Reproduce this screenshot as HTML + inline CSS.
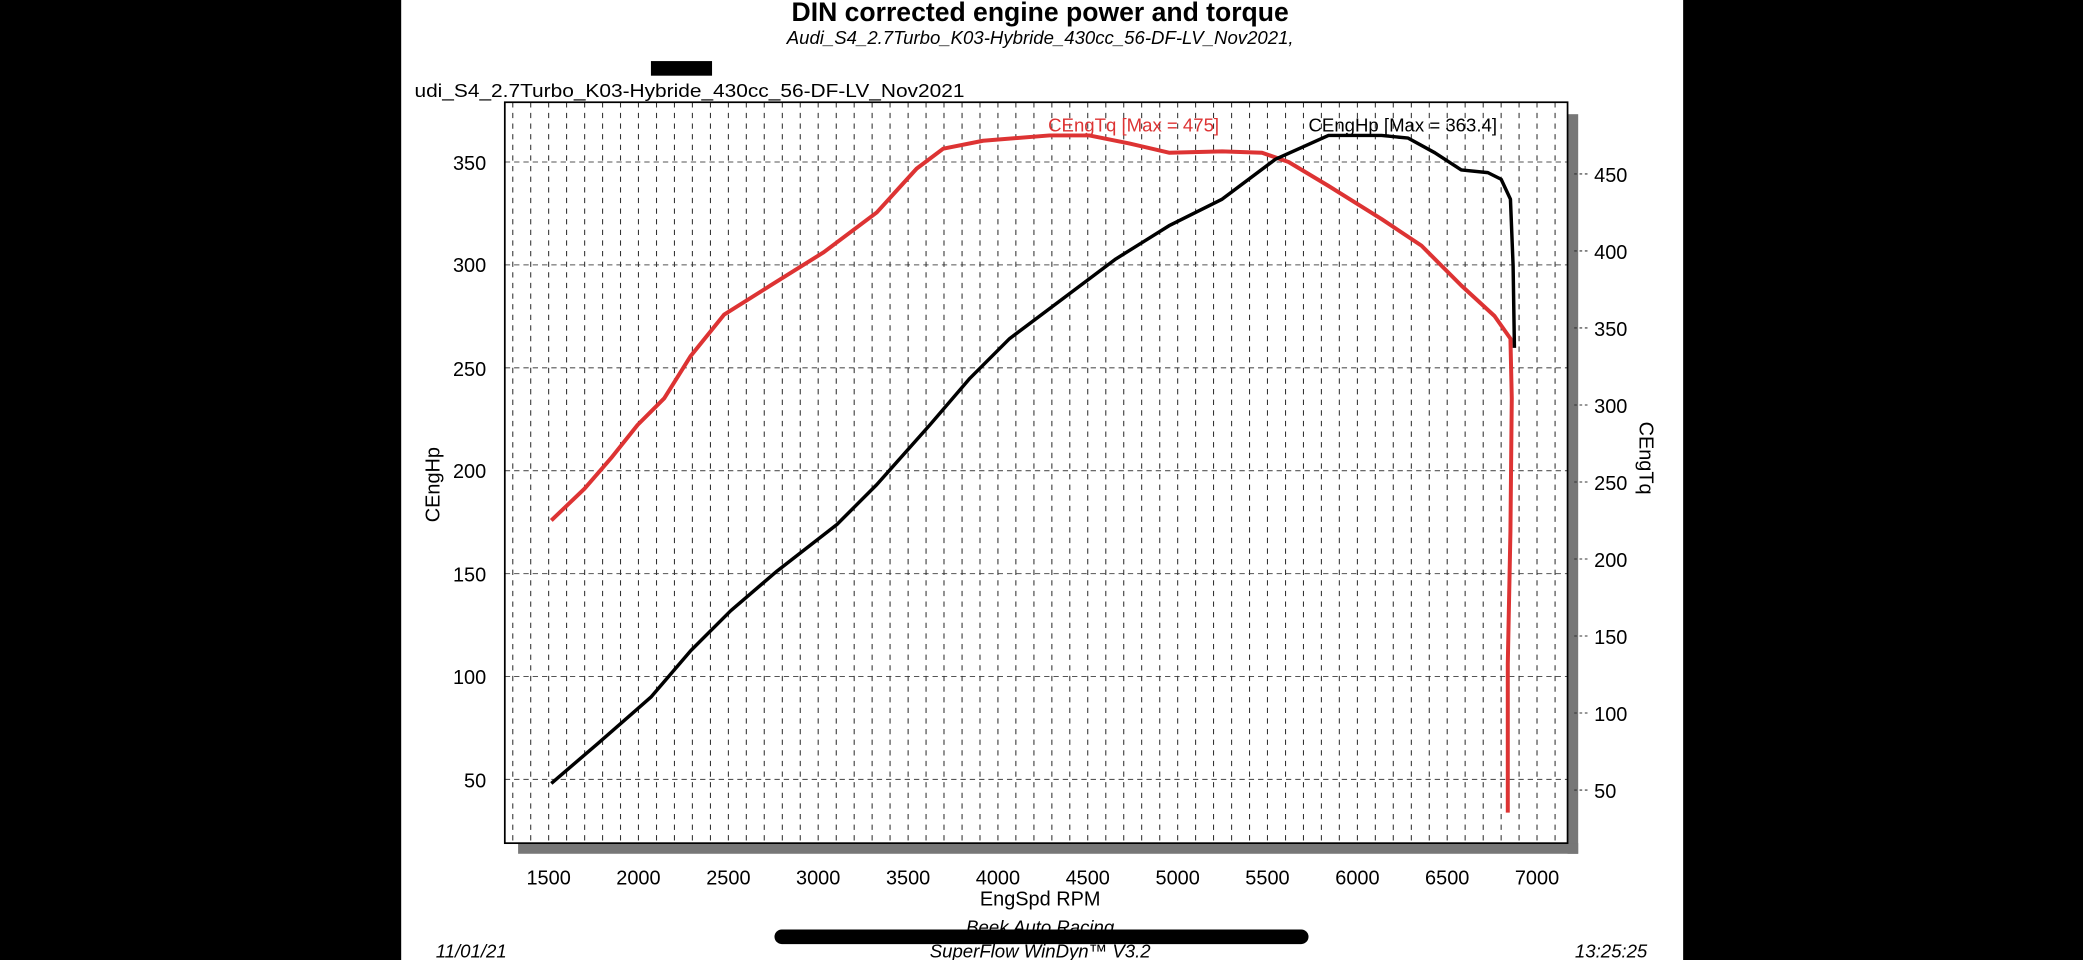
<!DOCTYPE html>
<html><head><meta charset="utf-8"><style>html,body{margin:0;padding:0;background:#000;overflow:hidden}svg{display:block}text{font-family:"Liberation Sans",sans-serif}</style></head><body>
<svg width="2083" height="960" viewBox="0 0 1568 723" preserveAspectRatio="none" xmlns="http://www.w3.org/2000/svg">
<rect x="302" y="0" width="965" height="723" fill="#fff"/>
<text x="783" y="16" font-size="20" font-weight="bold" text-anchor="middle">DIN corrected engine power and torque</text>
<text x="783" y="33" font-size="14" font-style="italic" text-anchor="middle">Audi_S4_2.7Turbo_K03-Hybride_430cc_56-DF-LV_Nov2021,</text>
<rect x="490" y="46" width="46" height="11" fill="#000"/>
<text x="312" y="73" font-size="14" textLength="414" lengthAdjust="spacingAndGlyphs">udi_S4_2.7Turbo_K03-Hybride_430cc_56-DF-LV_Nov2021</text>
<rect x="1180" y="86" width="8" height="557" fill="#777"/>
<rect x="390" y="635" width="798" height="8" fill="#777"/>
<g stroke="#555" stroke-width="0.8" stroke-dasharray="4,3">
<line x1="380" x2="1180" y1="122" y2="122"/><line x1="380" x2="1180" y1="199.5" y2="199.5"/><line x1="380" x2="1180" y1="277" y2="277"/><line x1="380" x2="1180" y1="354.5" y2="354.5"/><line x1="380" x2="1180" y1="432" y2="432"/><line x1="380" x2="1180" y1="509.5" y2="509.5"/><line x1="380" x2="1180" y1="587" y2="587"/>
</g>
<g stroke="#333" stroke-width="0.8" stroke-dasharray="4,4">
<line x1="386" x2="386" y1="77" y2="635"/><line x1="399.5" x2="399.5" y1="77" y2="635"/><line x1="413" x2="413" y1="77" y2="635"/><line x1="426.5" x2="426.5" y1="77" y2="635"/><line x1="440.1" x2="440.1" y1="77" y2="635"/><line x1="453.6" x2="453.6" y1="77" y2="635"/><line x1="467.1" x2="467.1" y1="77" y2="635"/><line x1="480.6" x2="480.6" y1="77" y2="635"/><line x1="494.2" x2="494.2" y1="77" y2="635"/><line x1="507.7" x2="507.7" y1="77" y2="635"/><line x1="521.2" x2="521.2" y1="77" y2="635"/><line x1="534.8" x2="534.8" y1="77" y2="635"/><line x1="548.3" x2="548.3" y1="77" y2="635"/><line x1="561.8" x2="561.8" y1="77" y2="635"/><line x1="575.3" x2="575.3" y1="77" y2="635"/><line x1="588.9" x2="588.9" y1="77" y2="635"/><line x1="602.4" x2="602.4" y1="77" y2="635"/><line x1="615.9" x2="615.9" y1="77" y2="635"/><line x1="629.5" x2="629.5" y1="77" y2="635"/><line x1="643" x2="643" y1="77" y2="635"/><line x1="656.5" x2="656.5" y1="77" y2="635"/><line x1="670" x2="670" y1="77" y2="635"/><line x1="683.6" x2="683.6" y1="77" y2="635"/><line x1="697.1" x2="697.1" y1="77" y2="635"/><line x1="710.6" x2="710.6" y1="77" y2="635"/><line x1="724.2" x2="724.2" y1="77" y2="635"/><line x1="737.7" x2="737.7" y1="77" y2="635"/><line x1="751.2" x2="751.2" y1="77" y2="635"/><line x1="764.7" x2="764.7" y1="77" y2="635"/><line x1="778.3" x2="778.3" y1="77" y2="635"/><line x1="791.8" x2="791.8" y1="77" y2="635"/><line x1="805.3" x2="805.3" y1="77" y2="635"/><line x1="818.8" x2="818.8" y1="77" y2="635"/><line x1="832.4" x2="832.4" y1="77" y2="635"/><line x1="845.9" x2="845.9" y1="77" y2="635"/><line x1="859.4" x2="859.4" y1="77" y2="635"/><line x1="873" x2="873" y1="77" y2="635"/><line x1="886.5" x2="886.5" y1="77" y2="635"/><line x1="900" x2="900" y1="77" y2="635"/><line x1="913.5" x2="913.5" y1="77" y2="635"/><line x1="927.1" x2="927.1" y1="77" y2="635"/><line x1="940.6" x2="940.6" y1="77" y2="635"/><line x1="954.1" x2="954.1" y1="77" y2="635"/><line x1="967.7" x2="967.7" y1="77" y2="635"/><line x1="981.2" x2="981.2" y1="77" y2="635"/><line x1="994.7" x2="994.7" y1="77" y2="635"/><line x1="1008.2" x2="1008.2" y1="77" y2="635"/><line x1="1021.8" x2="1021.8" y1="77" y2="635"/><line x1="1035.3" x2="1035.3" y1="77" y2="635"/><line x1="1048.8" x2="1048.8" y1="77" y2="635"/><line x1="1062.4" x2="1062.4" y1="77" y2="635"/><line x1="1075.9" x2="1075.9" y1="77" y2="635"/><line x1="1089.4" x2="1089.4" y1="77" y2="635"/><line x1="1102.9" x2="1102.9" y1="77" y2="635"/><line x1="1116.5" x2="1116.5" y1="77" y2="635"/><line x1="1130" x2="1130" y1="77" y2="635"/><line x1="1143.5" x2="1143.5" y1="77" y2="635"/><line x1="1157" x2="1157" y1="77" y2="635"/><line x1="1170.6" x2="1170.6" y1="77" y2="635"/>
</g>
<rect x="380" y="77" width="800" height="558" fill="none" stroke="#000" stroke-width="1.3"/>
<g font-size="15" text-anchor="end">
<text x="366" y="128">350</text><text x="366" y="205">300</text><text x="366" y="283">250</text><text x="366" y="360">200</text><text x="366" y="438">150</text><text x="366" y="515">100</text><text x="366" y="593">50</text>
</g>
<g font-size="15" text-anchor="start">
<text x="1200" y="137">450</text><text x="1200" y="195">400</text><text x="1200" y="253">350</text><text x="1200" y="311">300</text><text x="1200" y="369">250</text><text x="1200" y="427">200</text><text x="1200" y="485">150</text><text x="1200" y="543">100</text><text x="1200" y="601">50</text>
</g>
<g stroke="#333" stroke-width="0.8" stroke-dasharray="2,2">
<line x1="1185" x2="1197" y1="131" y2="131"/><line x1="1185" x2="1197" y1="189" y2="189"/><line x1="1185" x2="1197" y1="247" y2="247"/><line x1="1185" x2="1197" y1="305" y2="305"/><line x1="1185" x2="1197" y1="363" y2="363"/><line x1="1185" x2="1197" y1="421" y2="421"/><line x1="1185" x2="1197" y1="479" y2="479"/><line x1="1185" x2="1197" y1="537" y2="537"/><line x1="1185" x2="1197" y1="595" y2="595"/>
</g>
<g font-size="15" text-anchor="middle">
<text x="413" y="666">1500</text><text x="480.6" y="666">2000</text><text x="548.3" y="666">2500</text><text x="615.9" y="666">3000</text><text x="683.6" y="666">3500</text><text x="751.2" y="666">4000</text><text x="818.8" y="666">4500</text><text x="886.5" y="666">5000</text><text x="954.1" y="666">5500</text><text x="1021.8" y="666">6000</text><text x="1089.4" y="666">6500</text><text x="1157" y="666">7000</text>
</g>
<text x="783" y="682" font-size="15" text-anchor="middle">EngSpd RPM</text>
<text font-size="15" text-anchor="middle" transform="translate(331,365) rotate(-90)">CEngHp</text>
<text font-size="15" text-anchor="middle" transform="translate(1234,345) rotate(90)">CEngTq</text>
<text x="789" y="99" font-size="14" fill="#d33">CEngTq [Max = 475]</text>
<text x="985" y="99" font-size="14">CEngHp [Max = 363.4]</text>
<polyline fill="none" stroke="#d33" stroke-width="3" stroke-linejoin="round" points="415,392 440,368 460,345 480,320 500,300 520,268 545,237 580,215 620,190 660,160 690,127 710,112 740,106 790,102 820,102 850,108 880,115 920,114 950,115 970,122 1000,140 1040,165 1070,185 1100,215 1125,238 1137,255 1138,300 1137,400 1135,500 1135,612"/>
<polyline fill="none" stroke="#000" stroke-width="2.6" stroke-linejoin="round" points="415,590 450,560 490,525 520,490 550,460 585,430 630,395 660,365 700,320 730,285 760,255 800,225 840,195 880,170 920,150 960,120 1000,102 1040,102 1060,104 1080,115 1100,128 1120,130 1130,135 1137,150 1139,200 1140,262"/>
<text x="783" y="703" font-size="14" font-style="italic" text-anchor="middle">Beek Auto Racing</text>
<rect x="583" y="700" width="402" height="11" rx="5.5" fill="#000"/>
<text x="783" y="721" font-size="14" font-style="italic" text-anchor="middle">SuperFlow WinDyn™ V3.2</text>
<text x="328" y="721" font-size="14" font-style="italic">11/01/21</text>
<text x="1240" y="721" font-size="14" font-style="italic" text-anchor="end">13:25:25</text>
</svg>
</body></html>
